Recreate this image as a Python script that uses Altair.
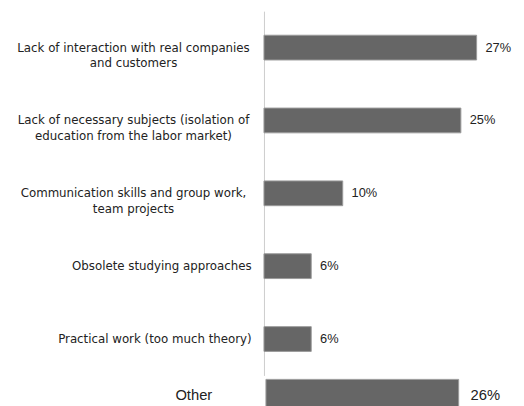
import altair as alt
import pandas as pd

categories = [
    "Lack of interaction with real companies|and customers",
    "Lack of necessary subjects (isolation of|education from the labor market)",
    "Communication skills and group work,|team projects",
    "Obsolete studying approaches",
    "Practical work (too much theory)",
]
values = [27, 25, 10, 6, 6]
other_category = ["Other"]
other_values = [26]

df = pd.DataFrame({"cat": categories, "val": values})
df["lbl"] = df["val"].astype(str) + "%"
df2 = pd.DataFrame({"cat": other_category, "val": other_values})
df2["lbl"] = df2["val"].astype(str) + "%"

FONT = "DejaVu Sans"
BAR = "#666666"
EDGE = "#9a9a9a"
MULTI = "indexof(datum.value, '|') >= 0"

y1 = alt.Y(
    "cat:N",
    sort=categories,
    title=None,
    scale=alt.Scale(paddingInner=0.66, paddingOuter=0.33),
    axis=alt.Axis(
        labelExpr="split(datum.label, '|')",
        labelFont=FONT,
        labelFontSize=12,
        labelColor="#222222",
        labelLineHeight=16,
        labelAlign={"condition": {"test": MULTI, "value": "center"}, "value": "right"},
        labelPadding={"condition": {"test": MULTI, "value": 133}, "value": 13},
        labelLimit=300,
        ticks=False,
        domainColor="#cccccc",
        domainWidth=1,
        minExtent=260,
        maxExtent=260,
    ),
)
x1 = alt.X("val:Q", title=None, scale=alt.Scale(domain=[0, 32]), axis=None)

base1 = alt.Chart(df).encode(y=y1, x=x1)
bars1 = base1.mark_bar(color=BAR, stroke=EDGE, strokeWidth=1)
text1 = base1.mark_text(
    align="left", dx=9, font="Liberation Sans", fontSize=13, color="#222222"
).encode(text="lbl:N")
top = (bars1 + text1).properties(width=256, height=370)

y2 = alt.Y(
    "cat:N",
    title=None,
    scale=alt.Scale(paddingInner=0, paddingOuter=0.125),
    axis=alt.Axis(
        labelFont="Liberation Sans",
        labelFontSize=15,
        labelColor="#222222",
        labelPadding=53,
        ticks=False,
        domain=False,
        minExtent=260,
        maxExtent=260,
    ),
)
x2 = alt.X("val:Q", title=None, scale=alt.Scale(domain=[0, 34]), axis=None)
base2 = alt.Chart(df2).encode(y=y2, x=x2)
bars2 = base2.mark_bar(color=BAR, stroke=EDGE, strokeWidth=1, xOffset=2)
text2 = base2.mark_text(
    align="left", dx=14, font="Liberation Sans", fontSize=15, color="#222222"
).encode(text="lbl:N")
bottom = (bars2 + text2).properties(width=256, height=40)

chart = (
    alt.vconcat(top, bottom, spacing=0)
    .resolve_scale(x="independent", y="independent")
    .properties(padding=0, background="white")
    .configure_view(stroke=None)
)

chart.save("out.html", embed_options={"renderer": "svg", "actions": False})
